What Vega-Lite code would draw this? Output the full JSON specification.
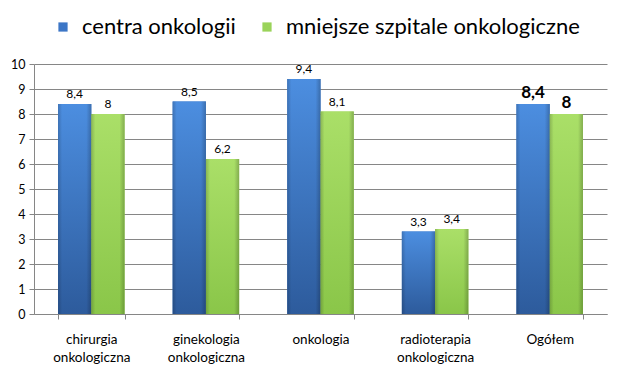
{
  "$schema": "https://vega.github.io/schema/vega-lite/v6.json",
  "width": 573,
  "height": 250,
  "autosize": {"type": "none"},
  "padding": {"left": 34, "top": 64, "right": 21, "bottom": 61},
  "background": "white",
  "config": {
    "locale": {"number": {"decimal": ",", "thousands": " ", "grouping": [3], "currency": ["", " zł"]}},
    "font": "Lato",
    "view": {"stroke": null},
    "axis": {"labelFont": "Lato", "labelColor": "#000000", "domainColor": "#868686", "tickColor": "#868686", "gridColor": "#868686", "gridOpacity": 1, "title": null}
  },
  "data": {
    "values": [
      {"category": "chirurgia onkologiczna", "series": "centra onkologii", "value": 8.4},
      {"category": "chirurgia onkologiczna", "series": "mniejsze szpitale onkologiczne", "value": 8},
      {"category": "ginekologia onkologiczna", "series": "centra onkologii", "value": 8.5},
      {"category": "ginekologia onkologiczna", "series": "mniejsze szpitale onkologiczne", "value": 6.2},
      {"category": "onkologia", "series": "centra onkologii", "value": 9.4},
      {"category": "onkologia", "series": "mniejsze szpitale onkologiczne", "value": 8.1},
      {"category": "radioterapia onkologiczna", "series": "centra onkologii", "value": 3.3},
      {"category": "radioterapia onkologiczna", "series": "mniejsze szpitale onkologiczne", "value": 3.4},
      {"category": "Ogółem", "series": "centra onkologii", "value": 8.4},
      {"category": "Ogółem", "series": "mniejsze szpitale onkologiczne", "value": 8}
    ]
  },
  "encoding": {
    "x": {
      "field": "category", "type": "nominal", "sort": null,
      "scale": {"paddingInner": 0.42, "paddingOuter": 0.21},
      "axis": {"labelAngle": 0, "labelExpr": "split(datum.label, ' ')", "labelFontSize": 13.5, "labelLineHeight": 18, "labelPadding": 13, "tickBand": "extent", "tickSize": 5, "grid": false, "labelBaseline": "top"}
    },
    "xOffset": {"field": "series", "type": "nominal", "sort": ["centra onkologii", "mniejsze szpitale onkologiczne"]},
    "y": {
      "field": "value", "type": "quantitative",
      "scale": {"domain": [0, 10], "nice": false},
      "axis": {"values": [0, 1, 2, 3, 4, 5, 6, 7, 8, 9, 10], "grid": true, "tickSize": 5, "labelFontSize": 12.5, "labelPadding": 4}
    }
  },
  "layer": [
    {
      "mark": {"type": "bar"},
      "encoding": {
        "color": {
          "field": "series", "type": "nominal",
          "sort": ["centra onkologii", "mniejsze szpitale onkologiczne"],
          "scale": {"range": ["#3C76C6", "#9AD35A"]},
          "legend": {"orient": "none", "legendX": 18, "legendY": -48, "direction": "horizontal", "title": null, "labelFontSize": 22, "labelFont": "Lato", "labelColor": "#000000", "labelLimit": 500, "symbolType": "square", "symbolSize": 85, "columnPadding": 20, "labelOffset": 8, "symbolStrokeWidth": 0}
        }
      }
    },
    {
      "mark": {"type": "bar"},
      "encoding": {
        "fill": {
          "condition": {
            "test": "datum.series === 'centra onkologii'",
            "value": {"gradient": "linear", "x1": 0, "y1": 0, "x2": 0, "y2": 1, "stops": [{"offset": 0, "color": "#4C8EE0"}, {"offset": 1, "color": "#2D5B9C"}]}
          },
          "value": {"gradient": "linear", "x1": 0, "y1": 0, "x2": 0, "y2": 1, "stops": [{"offset": 0, "color": "#AADF68"}, {"offset": 1, "color": "#8AC649"}]}
        }
      }
    },
    {
      "mark": {
        "type": "bar",
        "fill": {"gradient": "linear", "x1": 0, "y1": 0, "x2": 1, "y2": 0, "stops": [{"offset": 0, "color": "rgba(0,0,0,0.18)"}, {"offset": 0.12, "color": "rgba(0,0,0,0)"}, {"offset": 0.85, "color": "rgba(0,0,0,0)"}, {"offset": 1, "color": "rgba(0,0,0,0.22)"}]}
      }
    },
    {
      "transform": [{"filter": "datum.category !== 'Ogółem'"}],
      "mark": {"type": "text", "baseline": "bottom", "dy": -3, "fontSize": 12, "font": "Lato", "color": "#000000"},
      "encoding": {"text": {"field": "value", "type": "quantitative", "format": ".1~f"}}
    },
    {
      "transform": [{"filter": "datum.category === 'Ogółem'"}],
      "mark": {"type": "text", "baseline": "bottom", "dy": -2, "fontSize": 17, "fontWeight": "bold", "font": "Lato", "color": "#000000"},
      "encoding": {"text": {"field": "value", "type": "quantitative", "format": ".1~f"}}
    }
  ]
}
